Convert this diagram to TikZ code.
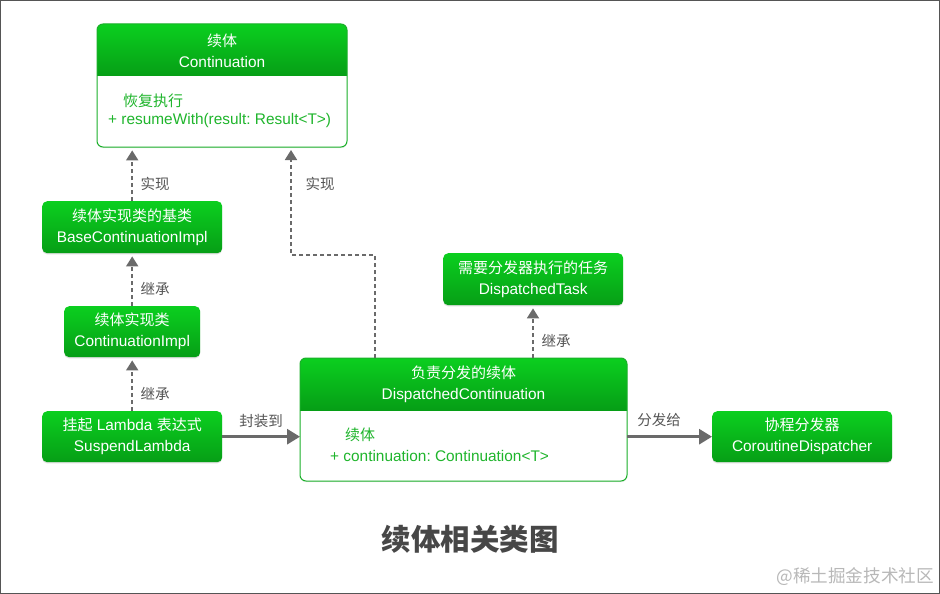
\documentclass[tikz,border=0pt]{standalone}
\usepackage{fontspec}
\setmainfont{Liberation Sans}
\newfontfamily\cjk{Noto Sans CJK SC}
\usetikzlibrary{arrows.meta,shadows}
\definecolor{gtop}{HTML}{0BCF1F}
\definecolor{gbot}{HTML}{069E16}
\definecolor{gborder}{HTML}{1BB02A}
\definecolor{gtext}{HTML}{1FB52C}
\definecolor{cgray}{HTML}{6A6A6A}
\definecolor{lgray}{HTML}{555555}
\newcommand\zh[1]{{\cjk\fontsize{15}{21}\selectfont #1}}
\begin{document}
\begin{tikzpicture}[x=1pt,y=-1pt,
  font=\frenchspacing\fontsize{15.4}{21}\selectfont,
  greenbox/.style={rounded corners=5pt, top color=gtop, bottom color=gbot, draw=none,
    drop shadow={opacity=0.25,shadow xshift=0pt,shadow yshift=-1.2pt},
    text=white, align=center, inner sep=0pt, anchor=north west},
  umlbody/.style={rounded corners=6pt, fill=white, draw=none, inner sep=0pt, anchor=north west,
    drop shadow={opacity=0.15,shadow xshift=0pt,shadow yshift=-1pt}},
  hdrtxt/.style={text=white, align=center, inner sep=0pt},
  bodytxt/.style={text=gtext, inner sep=0pt, anchor=west},
  lbl/.style={text=lgray, inner sep=0pt, font=\cjk\fontsize{14.5}{16}\selectfont},
  dasharrow/.style={draw=cgray, line width=1.8pt, dash pattern=on 4pt off 3pt,
    -{Triangle[width=12pt,length=10pt]}, shorten >=3pt},
  solidarrow/.style={draw=cgray, line width=3pt, -{Triangle[width=15pt,length=13pt]}}
]
\useasboundingbox (0,0) rectangle (940,594);
\fill[white] (0,0) rectangle (940,594);
\draw[draw=lgray, line width=1.2pt] (0.6,0.6) rectangle (939.4,593.4);

% Continuation
\node[umlbody, minimum width=250, minimum height=123] (cont) at (97,24) {};
\begin{scope}
  \clip[rounded corners=6pt] (97,24) rectangle (347,147);
  \fill[top color=gtop, bottom color=gbot] (97,24) rectangle (347,76);
\end{scope}
\draw[gborder, line width=1pt, rounded corners=6pt] (97,24) rectangle (347,147);
\node[hdrtxt] (conttitle) at (222,50.5) {\zh{续体}\\Continuation};
\node[bodytxt] (contm1) at (123,101) {\zh{恢复执行}};
\node[bodytxt] (contm2) at (108,121) {+ resumeWith(result: Result<T>)};

% DispatchedContinuation
\node[umlbody, minimum width=327, minimum height=123] (dc) at (300,358) {};
\begin{scope}
  \clip[rounded corners=6pt] (300,358) rectangle (627,481);
  \fill[top color=gtop, bottom color=gbot] (300,358) rectangle (627,410);
\end{scope}
\draw[gborder, line width=1pt, rounded corners=6pt] (300,358) rectangle (627,481);
\node[hdrtxt] (dctitle) at (463.5,384.5) {\zh{负责分发的续体}\\DispatchedContinuation};
\node[bodytxt] (dcm1) at (345,435) {\zh{续体}};
\node[bodytxt] (dcm2) at (330,456) {+ continuation: Continuation<T>};

% simple green boxes
\node[greenbox, minimum width=180, minimum height=52] (base) at (42,201) {\zh{续体实现类的基类}\\BaseContinuationImpl};
\node[greenbox, minimum width=136, minimum height=51] (impl) at (64,306) {\zh{续体实现类}\\ContinuationImpl};
\node[greenbox, minimum width=180, minimum height=51] (susp) at (42,411) {\zh{挂起} Lambda \zh{表达式}\\SuspendLambda};
\node[greenbox, minimum width=180, minimum height=52] (task) at (443,253) {\zh{需要分发器执行的任务}\\DispatchedTask};
\node[greenbox, minimum width=180, minimum height=51] (disp) at (712,411) {\zh{协程分发器}\\CoroutineDispatcher};

% connectors
\draw[dasharrow] (base.north) -- (base.north |- cont.south);
\node[lbl] (l1) at (155,184) {实现};
\draw[dasharrow] (impl.north) -- (impl.north |- base.south);
\node[lbl] (l2) at (155,289) {继承};
\draw[dasharrow] (susp.north) -- (susp.north |- impl.south);
\node[lbl] (l3) at (155,394) {继承};

\coordinate (dcA) at (375,358);
\coordinate (contB) at (291,147);
\coordinate (bend) at (375,255);
\draw[dasharrow] (dcA) -- (bend) -| (contB);
\node[lbl] (l4) at (320,184) {实现};

\coordinate (dcB) at (533,358);
\draw[dasharrow] (dcB) -- (dcB |- task.south);
\node[lbl] (l5) at (556,341) {继承};

\draw[solidarrow] (susp.east) -- (susp.east -| dc.west);
\node[lbl] (l6) at (261,421) {封装到};
\draw[solidarrow] (disp.west -| dc.east) -- (disp.west);
\node[lbl] (l7) at (659,420) {分发给};

% title & watermark
\node[text=black!72, inner sep=0pt, font=\cjk\fontsize{29.5}{31}\selectfont\bfseries] (title) at (470,539) {续体相关类图};
\node[text=black!28, inner sep=0pt, anchor=east, font=\cjk\fontsize{17.6}{19}\selectfont] (wm) at (934,577) {@稀土掘金技术社区};
\end{tikzpicture}
\end{document}
